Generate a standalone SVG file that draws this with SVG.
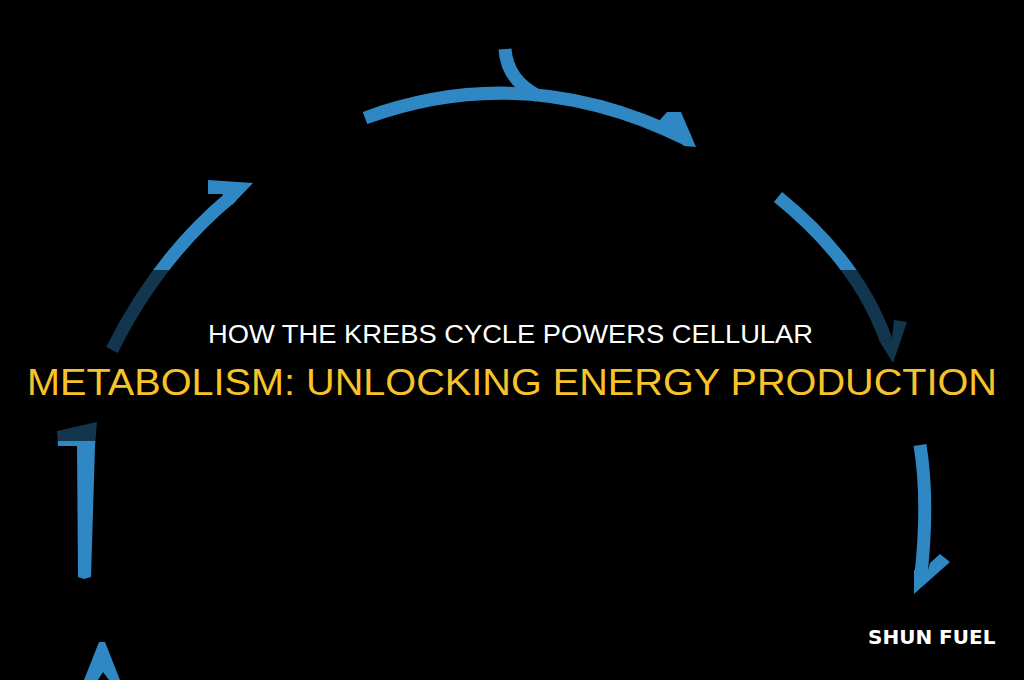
<svg xmlns="http://www.w3.org/2000/svg" width="1024" height="680" viewBox="0 0 1024 680">
  <style>
    .arc { fill: none; stroke: #2f88c4; stroke-width: 13; stroke-linecap: butt; }
    .head { fill: #2f88c4; }
    .t1 { font-family: "Liberation Sans", Arial, sans-serif; font-size: 25px; fill: #ffffff; }
    .t2 { font-family: "Liberation Sans", Arial, sans-serif; font-size: 36px; fill: #f8c22a; }
    .brand { font-family: "DejaVu Sans", Verdana, sans-serif; font-weight: bold; font-size: 20px; fill: #ffffff; }
  </style>
  <rect x="0" y="0" width="1024" height="680" fill="#000000"/>
  <g id="connectors">
    <!-- top arc with branch -->
    <path class="arc" d="M365,118 Q525.5,59 688,140"/>
    <path class="arc" d="M505,49 Q507,80 538,96" stroke-width="14"/>
    <polygon class="head" points="658,122 667,112 681,112 696,147 684,146"/>
    <!-- upper left -->
    <path class="arc" d="M112,350 Q158,257 232,196" stroke-linecap="round"/>
    <polygon class="head" points="208,180 253,183 232,205 222,194 208,194"/>
    <!-- upper right -->
    <path class="arc" d="M778,197 Q858,261.5 886,340" stroke-linecap="round"/>
    <polygon class="head" points="880,342 892,338 894,320 907,322 893,363"/>
    <!-- right lower -->
    <path class="arc" d="M920,445 Q929,500 921,575" stroke-width="14"/>
    <polygon class="head" points="914,570 928,570 930,563 940,554 950,562 914,594"/>
    <!-- left lower -->
    <polygon class="head" points="57,431 97,422 95,446 91,577 84,579 78,577 77,446 58,446"/>
    <!-- bottom left head -->
    <polygon class="head" points="99,642 105,642 120,680 109,680 103,672 98,680 84,680"/>
  </g>
  <rect id="band" x="0" y="270" width="1024" height="171" fill="#000000" opacity="0.6"/>
  <g id="title">
    <text class="t1" x="208" y="343" textLength="605" lengthAdjust="spacingAndGlyphs">HOW THE KREBS CYCLE POWERS CELLULAR</text>
    <text class="t2" x="27" y="395" textLength="970" lengthAdjust="spacingAndGlyphs">METABOLISM: UNLOCKING ENERGY PRODUCTION</text>
  </g>
  <g id="brand">
    <text class="brand" x="868" y="644">SHUN FUEL</text>
  </g>
</svg>
